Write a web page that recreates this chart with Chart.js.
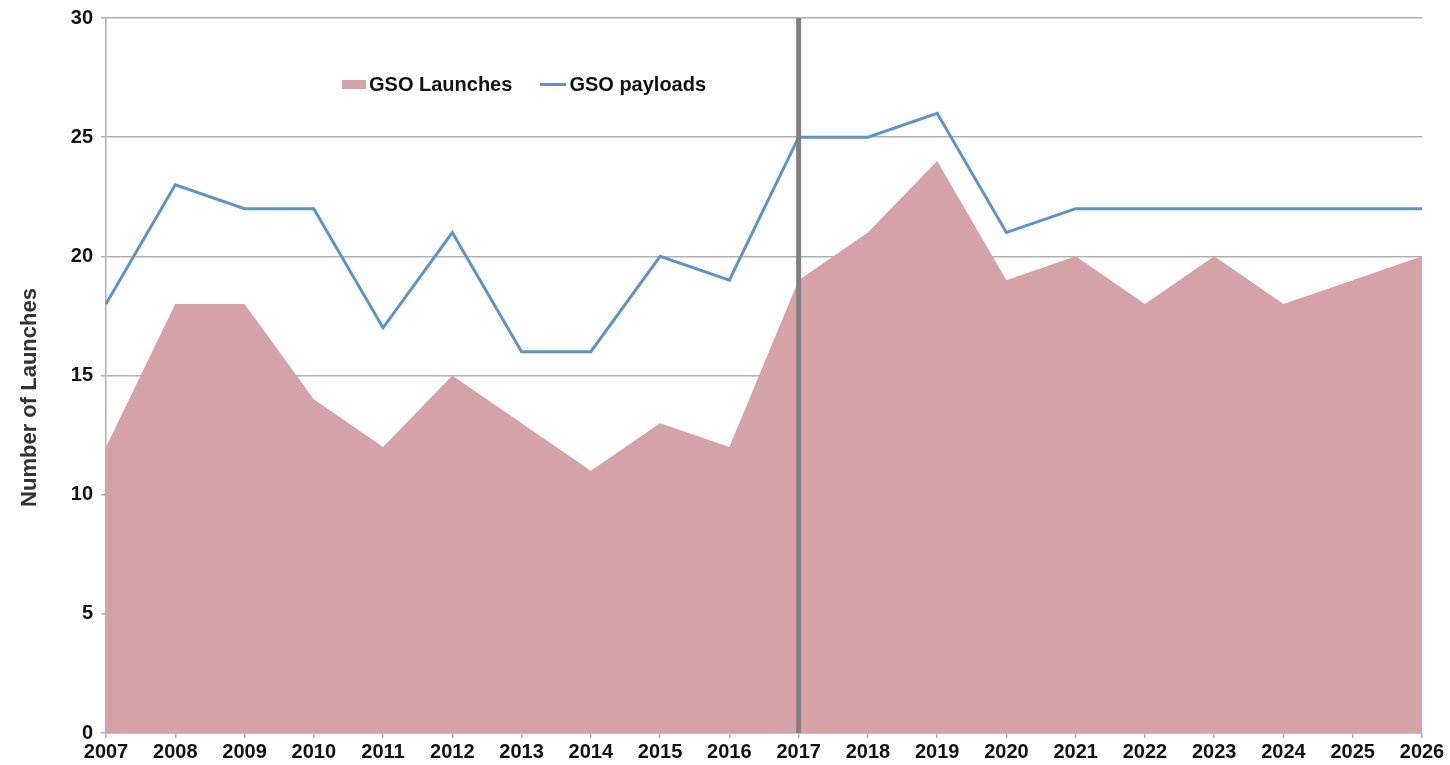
<!DOCTYPE html>
<html lang="en">
<head>
<meta charset="UTF-8">
<title>GSO Launches and Payloads</title>
<style>
  body { margin:0; padding:0; background:#fff; font-family:'Liberation Sans',Arial,sans-serif; }
  .wrap { position:relative; width:1450px; height:765px; }
  .legend { position:absolute; left:342px; top:73px; display:flex; align-items:center; font-weight:bold; font-size:20px; color:#111; }
  .legend span { display:inline-flex; align-items:center; }
  .sw-area { width:24px; height:9px; background:#d4a2a7; margin-right:3px; }
  .sw-line { width:26px; height:3px; background:#5b93cf; margin-right:3px; margin-left:28px; }
</style>
</head>
<body>
<div class="wrap">
  <canvas id="chart" width="1450" height="765"></canvas>
  <div class="legend">
    <span class="sw-area"></span><span>GSO Launches</span>
    <span class="sw-line"></span><span>GSO payloads</span>
  </div>
</div>

<script src="https://cdn.jsdelivr.net/npm/chart.js"></script>
<script>
const years = ['2007','2008','2009','2010','2011','2012','2013','2014','2015','2016',
               '2017','2018','2019','2020','2021','2022','2023','2024','2025','2026'];
const gsoLaunches = [12,18,18,14,12,15,13,11,13,12,19,21,24,19,20,18,20,18,19,20];
const gsoPayloads = [18,23,22,22,17,21,16,16,20,19,25,25,26,21,22,22,22,22,22,22];
const dividerYear = '2017';
const yTicks = [0,5,10,15,20,25,30];
const yTitle = 'Number of Launches';

// vertical gray marker at the divider year + the y axis title
const extras = {
  id: 'extras',
  afterDatasetsDraw(chart) {
    const x = chart.scales.x.getPixelForValue(years.indexOf(dividerYear));
    const a = chart.chartArea, ctx = chart.ctx;
    ctx.save();
    ctx.strokeStyle = '#808080';
    ctx.lineWidth = 5;
    ctx.beginPath();
    ctx.moveTo(x, a.top);
    ctx.lineTo(x, a.bottom);
    ctx.stroke();

    ctx.translate(30, (a.top + a.bottom) / 2 + 22);
    ctx.rotate(-Math.PI / 2);
    ctx.fillStyle = '#333';
    ctx.font = "bold 22px 'Liberation Sans', Arial, sans-serif";
    ctx.textAlign = 'center';
    ctx.textBaseline = 'middle';
    ctx.fillText(yTitle, 0, 0);
    ctx.restore();
  }
};

const tickFont = { family:"'Liberation Sans',Arial,sans-serif", size:20, weight:'bold' };

new Chart(document.getElementById('chart'), {
  type: 'line',
  data: {
    labels: years,
    datasets: [
      { label:'GSO payloads', data:gsoPayloads, borderColor:'#5b93cf', borderWidth:3,
        pointRadius:0, fill:false, tension:0, order:0 },
      { label:'GSO Launches', data:gsoLaunches, backgroundColor:'#d4a2a7', borderWidth:0,
        borderColor:'rgba(0,0,0,0)', pointRadius:0, fill:'origin', tension:0, order:1 }
    ]
  },
  options: {
    responsive:false,
    animation:false,
    layout: { padding:{ top:17, right:28, left:0, bottom:0 } },
    plugins: { legend:{ display:false }, tooltip:{ enabled:false } },
    scales: {
      x: {
        offset:false,
        grid: { drawOnChartArea:false, drawTicks:true, tickLength:5, color:'#b0b0b0', lineWidth:1.5 },
        border: { color:'#b0b0b0', width:1.5 },
        ticks: { color:'#111', font:tickFont, maxRotation:0, autoSkip:false, padding:2 },
        afterFit: s => { s.height = 32; }
      },
      y: {
        min:0, max:30,
        afterBuildTicks: s => { s.ticks = yTicks.map(v => ({ value:v })); },
        grid: { color:'#b0b0b0', lineWidth:1.5, tickLength:5 },
        border: { color:'#b0b0b0', width:1.5 },
        ticks: { color:'#111', font:{ ...tickFont, lineHeight:1 }, padding:8 },
        afterFit: s => { s.width = 106; }
      }
    }
  },
  plugins: [extras]
});
</script>
</body>
</html>
